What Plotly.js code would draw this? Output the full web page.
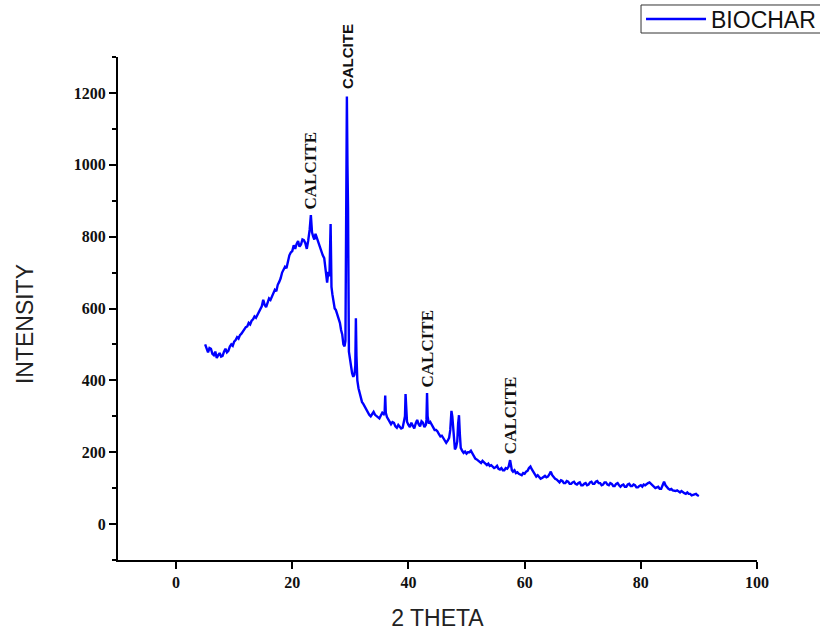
<!DOCTYPE html>
<html>
<head>
<meta charset="utf-8">
<script src="https://cdn.plot.ly/plotly-3.0.1.min.js"></script>
<style>html,body{margin:0;padding:0;background:#fff;}#chart{width:820px;height:632px;}</style>
</head>
<body>
<div id="chart"></div>
<script>
// 2-theta (degrees)
const twoTheta = [
  5.0,5.25,5.5,5.75,6.0,6.25,6.5,6.75,7.0,7.25,7.5,7.75,8.0,8.25,8.5,8.75,9.0,9.25,9.5,9.75,10.0,
  10.25,10.5,10.75,11,11.25,11.5,11.75,12,12.25,12.5,12.75,13,13.25,13.5,13.75,14,14.25,14.5,14.75,15,
  15.25,15.5,15.75,16,16.25,16.5,16.75,17,17.25,17.5,17.75,18,18.25,18.5,18.75,19,19.25,19.5,19.75,20,
  20.25,20.5,20.75,21,21.25,21.5,21.75,22,22.25,22.5,22.75,23,23.2,23.4,23.6,23.8,24,24.25,24.5,24.75,25,
  25.25,25.5,25.75,26,26.2,26.4,26.6,26.75,26.9,27.1,27.3,27.5,27.8,28,28.2,28.4,28.6,28.8,29,29.15,
  29.25,29.4,29.5,29.6,29.75,29.9,30.1,30.3,30.5,30.7,30.85,30.95,31.05,31.2,31.4,31.6,31.8,32,32.25,32.5,
  32.75,33,33.25,33.5,33.75,34,34.25,34.5,34.75,35,35.25,35.5,35.75,35.9,36,36.1,36.3,36.5,36.75,37,
  37.25,37.5,37.75,38,38.25,38.5,38.75,39,39.25,39.4,39.5,39.6,39.75,40,40.25,40.5,40.75,41,41.25,41.5,
  41.75,42,42.25,42.5,42.75,43,43.1,43.2,43.3,43.5,43.75,44,44.25,44.5,44.75,45,45.25,45.5,45.75,46,
  46.25,46.5,46.75,47,47.2,47.4,47.55,47.7,47.85,48,48.2,48.4,48.55,48.7,48.85,49,49.25,49.5,49.75,50,
  50.25,50.5,50.75,51,51.25,51.5,51.75,52,52.25,52.5,52.75,53,53.25,53.5,53.75,54,54.25,54.5,54.75,55,
  55.25,55.5,55.75,56,56.25,56.5,56.75,57,57.25,57.5,57.65,57.8,58,58.25,58.5,58.75,59,59.25,59.5,59.75,60,
  60.25,60.5,60.75,61,61.25,61.5,61.75,62,62.25,62.5,62.75,63,63.25,63.5,63.75,64,64.25,64.5,64.75,65,
  65.25,65.5,65.75,66,66.25,66.5,66.75,67,67.25,67.5,67.75,68,68.25,68.5,68.75,69,69.25,69.5,69.75,70,
  70.25,70.5,70.75,71,71.25,71.5,71.75,72,72.25,72.5,72.75,73,73.25,73.5,73.75,74,74.25,74.5,74.75,75,
  75.25,75.5,75.75,76,76.25,76.5,76.75,77,77.25,77.5,77.75,78,78.25,78.5,78.75,79,79.25,79.5,79.75,80,
  80.25,80.5,80.75,81,81.25,81.5,81.75,82,82.25,82.5,82.75,83,83.25,83.5,83.75,84,84.25,84.5,84.75,85,
  85.25,85.5,85.75,86,86.25,86.5,86.75,87,87.25,87.5,87.75,88,88.25,88.5,88.75,89,89.25,89.5,89.75,90
];
// Intensity (counts)
const intensity = [
  500,486,478,490,488,474,470,480,462,470,476,466,468,480,488,478,482,494,500,496,508,
  512,520,516,526,530,536,540,548,550,560,556,566,570,578,574,582,588,598,606,624,
  610,604,618,628,624,634,642,652,648,666,674,684,700,708,716,712,732,748,756,760,
  776,766,780,788,772,778,792,790,782,766,790,820,860,812,800,792,808,796,780,770,760,
  748,740,712,672,702,690,835,660,640,620,600,596,582,572,560,540,528,500,495,510,
  900,1190,1000,880,480,462,450,420,410,416,440,573,470,400,378,362,352,340,334,326,
  316,310,304,300,308,312,304,300,296,294,302,310,306,312,358,310,298,292,288,278,
  284,282,272,268,276,272,266,268,286,300,362,300,285,276,270,282,274,266,280,290,
  278,272,286,282,270,276,290,365,300,280,284,275,270,262,262,258,250,244,246,238,
  232,226,232,240,262,315,300,260,220,208,214,230,280,303,250,212,204,198,202,196,
  200,200,204,196,188,182,180,176,174,170,176,172,166,164,168,162,164,160,156,158,
  162,154,152,156,150,150,156,154,160,178,162,150,146,150,142,144,140,138,136,142,140,
  146,148,156,160,152,146,140,132,136,130,126,128,132,134,130,132,138,146,136,130,
  126,124,120,116,122,120,114,114,120,118,112,112,116,118,112,110,114,116,108,108,
  112,114,108,110,116,118,112,112,118,120,114,114,108,110,116,116,110,108,114,112,
  106,106,112,114,108,104,108,110,104,104,110,112,106,106,110,108,102,102,106,108,
  104,110,108,112,114,116,112,110,104,100,102,104,98,98,108,118,108,102,98,96,
  98,94,92,92,94,90,88,92,88,86,84,88,84,84,80,82,84,84,80,78
];
// Peak labels
const peakLabel = "CALCITE";
const peakX = [23.3, 29.5, 43.3, 57.5];
const peakY = [870, 1205, 375, 188];
// Axis titles
const xTitle = "2 THETA";
const yTitle = "INTENSITY";

const serifBold = {family: "Liberation Serif, Times New Roman, serif", size: 17, color: "#111", weight: "bold"};
const sansBold = {family: "Liberation Sans, Arial, sans-serif", size: 15, color: "#111", weight: "bold"};
const titleFont = {family: "Liberation Sans, Arial, sans-serif", size: 23, color: "#222"};

const annotations = peakX.map((x, i) => ({
  x: x, y: peakY[i], xref: "x", yref: "y",
  text: peakLabel, showarrow: false, textangle: -90,
  xanchor: "center", yanchor: "bottom",
  font: i === 1 ? sansBold : serifBold
}));
annotations.push({
  x: -0.1455, y: 0.469, xref: "paper", yref: "paper",
  text: yTitle, showarrow: false, textangle: -90,
  xanchor: "center", yanchor: "middle", font: titleFont
});

const trace = {
  x: twoTheta, y: intensity, type: "scatter", mode: "lines",
  name: "BIOCHAR",
  line: {color: "#0000ff", width: 2.4}
};

const tickFont = {family: "Liberation Serif, Times New Roman, serif", size: 16, color: "#111", weight: "bold"};

const layout = {
  width: 820, height: 632,
  margin: {l: 118, r: 63, t: 57, b: 72, pad: 0, autoexpand: false},
  paper_bgcolor: "#fff", plot_bgcolor: "#fff",
  showlegend: true,
  legend: {
    x: 0.8185, y: 1.0755, xanchor: "left", yanchor: "middle",
    borderwidth: 0, bgcolor: "rgba(0,0,0,0)",
    itemwidth: 60,
    font: {family: "Liberation Sans, Arial, sans-serif", size: 23, color: "#111"}
  },
  shapes: [{
    type: "rect", xref: "paper", yref: "paper",
    x0: 0.8185, x1: 1.2, y0: 1.0477, y1: 1.1034,
    line: {color: "#333", width: 1}, fillcolor: "rgba(0,0,0,0)", layer: "below"
  }],
  xaxis: {
    range: [-10, 100], dtick: 20, tick0: 0,
    showgrid: false, zeroline: false,
    showline: true, linecolor: "#000", linewidth: 2,
    ticks: "outside", ticklen: 7, tickwidth: 2, tickcolor: "#000",
    tickfont: tickFont,
    title: {text: xTitle, font: titleFont, standoff: 20}
  },
  yaxis: {
    range: [-100, 1300], dtick: 200, tick0: 0,
    showgrid: false, zeroline: false,
    showline: true, linecolor: "#000", linewidth: 2,
    ticks: "outside", ticklen: 7, tickwidth: 2, tickcolor: "#000",
    minor: {dtick: 100, ticks: "outside", ticklen: 4, tickwidth: 2, tickcolor: "#000", showgrid: false},
    tickfont: tickFont
  },
  annotations: annotations
};

Plotly.newPlot("chart", [trace], layout, {displayModeBar: false, staticPlot: true});
</script>
</body>
</html>
